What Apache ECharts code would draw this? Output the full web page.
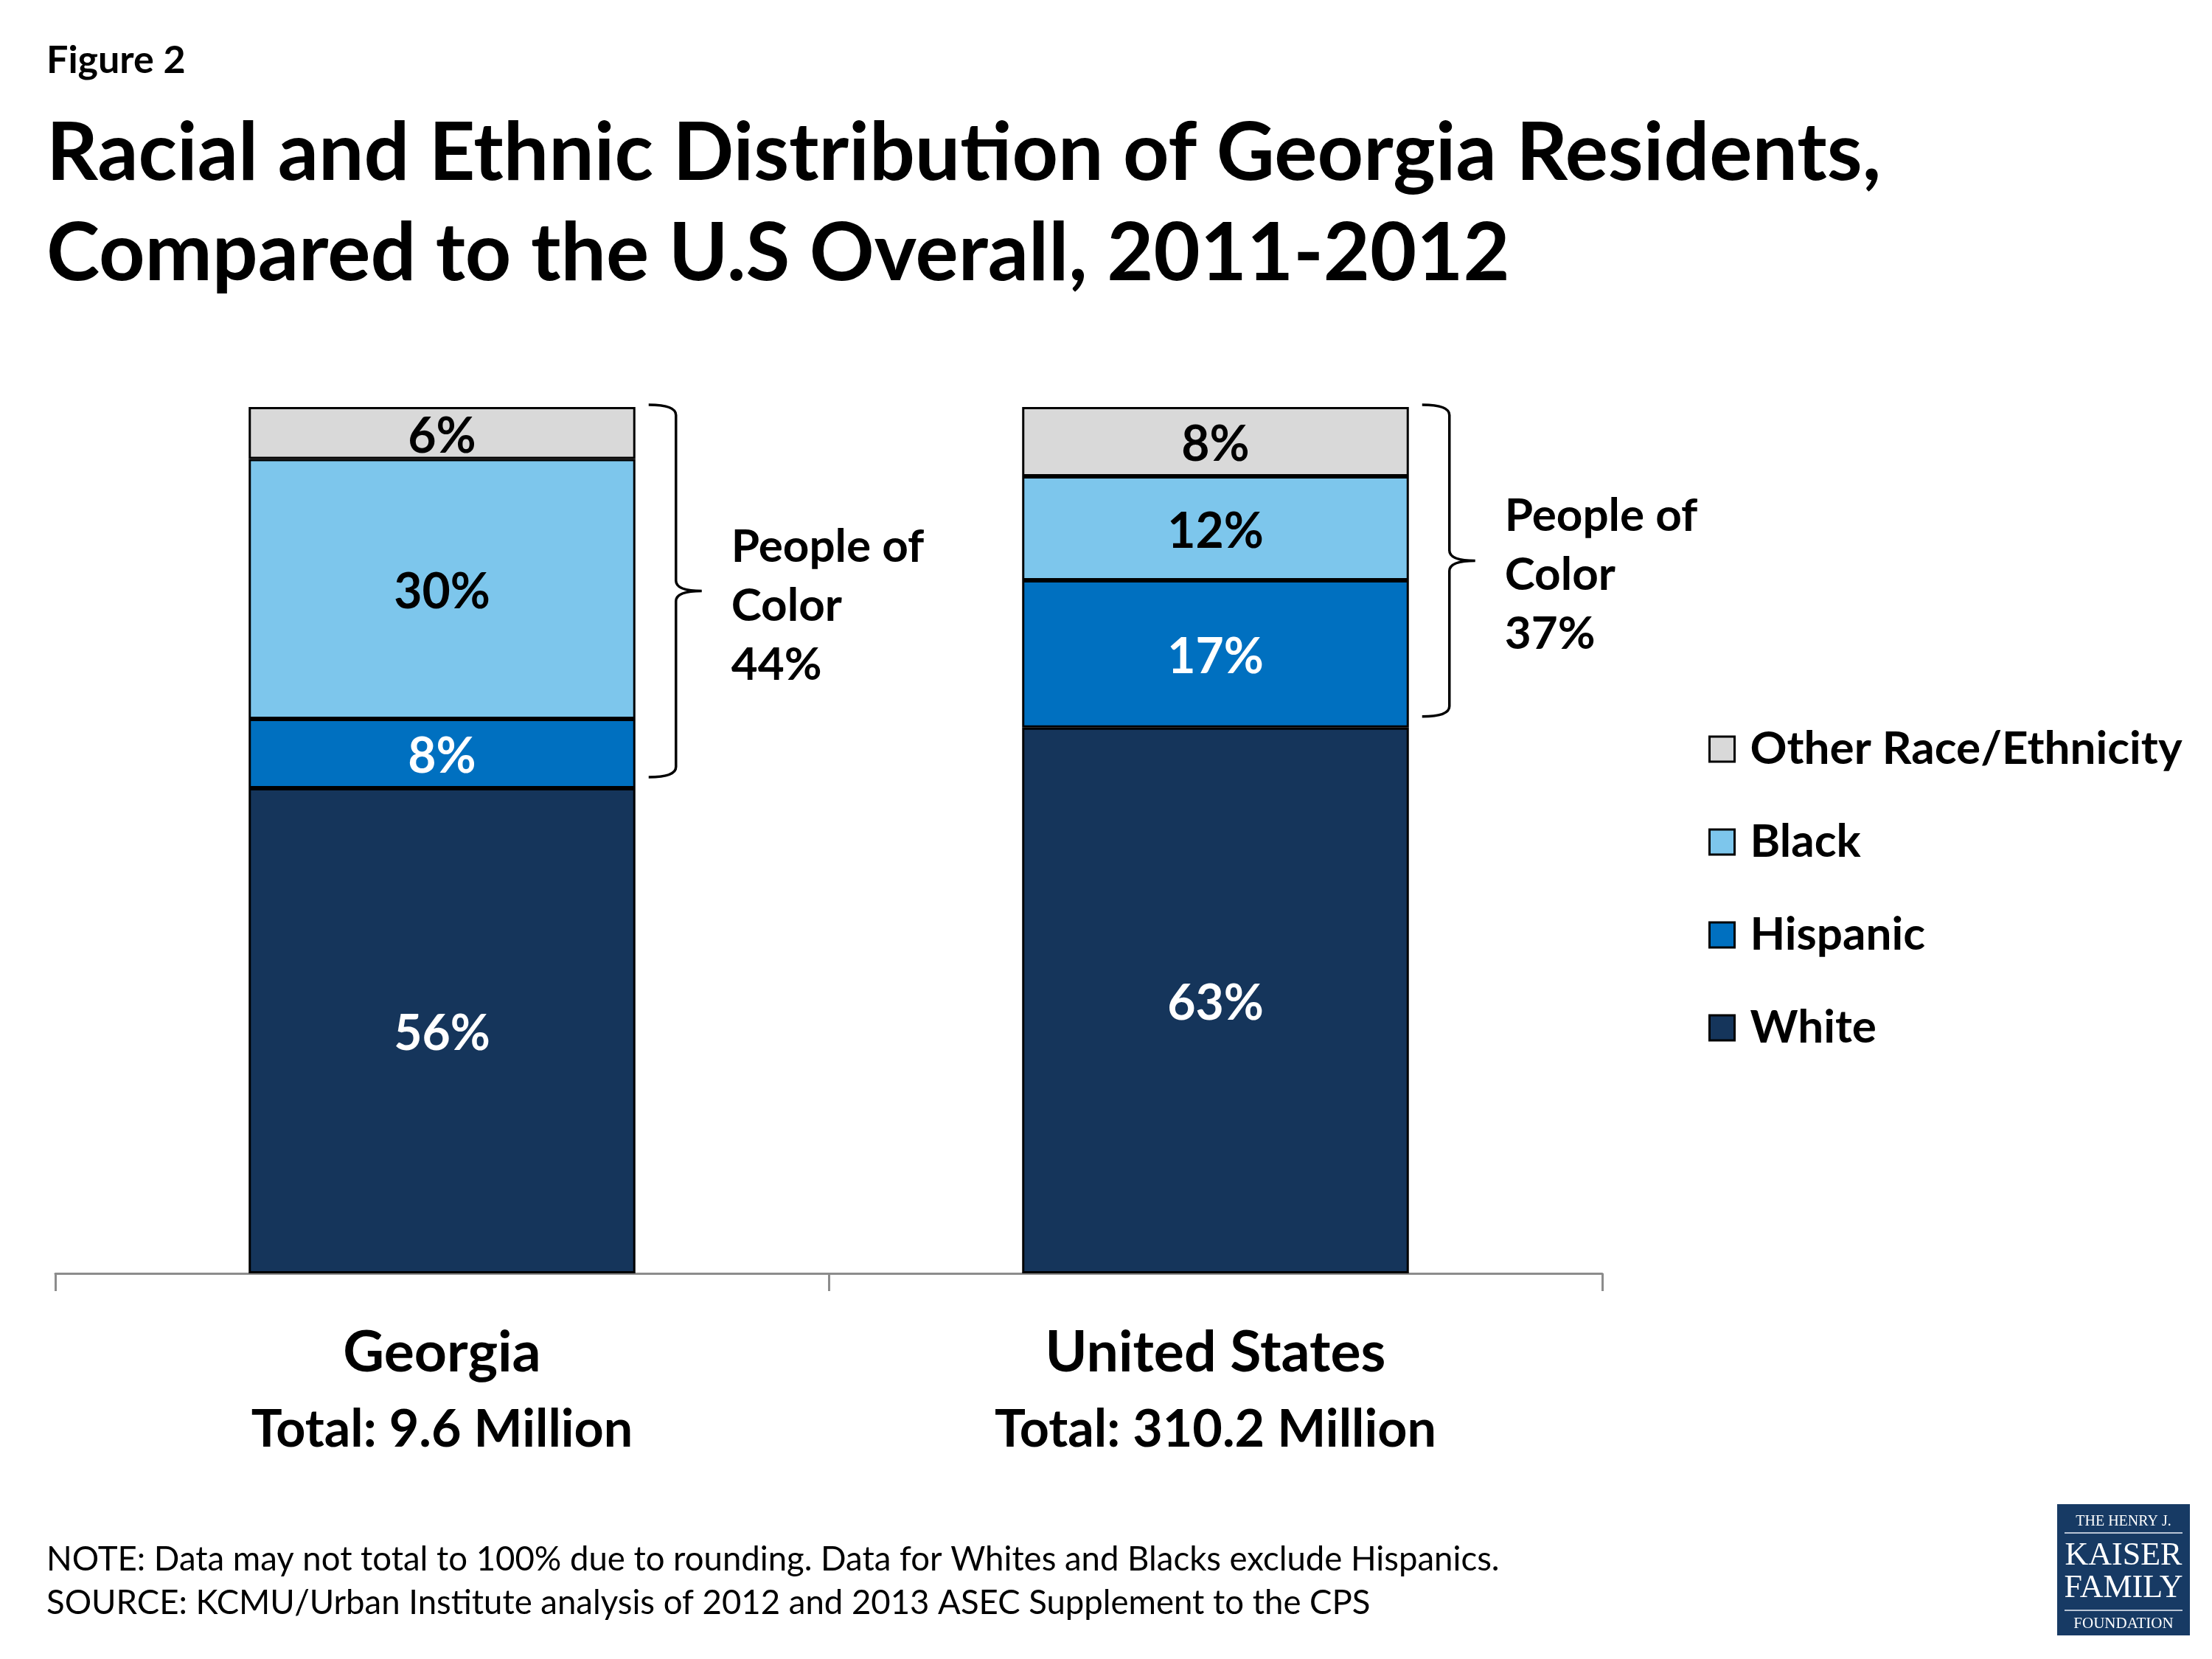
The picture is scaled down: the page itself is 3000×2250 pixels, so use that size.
<!DOCTYPE html>
<html>
<head>
<meta charset="utf-8">
<script src="https://cdn.jsdelivr.net/npm/echarts@6/dist/echarts.min.js"></script>
<style>
html,body{margin:0;padding:0;background:#fff;}
#chart{width:3000px;height:2250px;}
</style>
</head>
<body>
<div id="chart"></div>
<script>
// ---- data ----
const categories = ['Georgia', 'United States'];
const totalsMillion = [9.6, 310.2];
const seriesNames = ['White', 'Hispanic', 'Black', 'Other Race/Ethnicity'];
const white = [56, 63];
const hispanic = [8, 17];
const black = [30, 12];
const other = [6, 8];
const peopleOfColor = [44, 37];

// ---- styles ----
const FONT = 'Lato, "Open Sans", sans-serif';
const colors = {
  'White': '#15355B',
  'Hispanic': '#0070C0',
  'Black': '#7DC6EC',
  'Other Race/Ethnicity': '#D9D9D9'
};
const labelColors = {
  'White': '#ffffff',
  'Hispanic': '#ffffff',
  'Black': '#000000',
  'Other Race/Ethnicity': '#000000'
};
const values = {
  'White': white, 'Hispanic': hispanic, 'Black': black, 'Other Race/Ethnicity': other
};

const barSeries = seriesNames.map(name => ({
  name: name,
  type: 'bar',
  stack: 'total',
  barWidth: '50%',
  data: values[name],
  itemStyle: { color: colors[name], borderColor: '#000', borderWidth: 3 },
  label: {
    show: true,
    position: 'inside',
    offset: [0, 5],
    formatter: '{c}%',
    fontFamily: FONT,
    fontWeight: 'bold',
    fontSize: 66,
    color: labelColors[name]
  },
  emphasis: { disabled: true }
}));

const bracketData = categories.map((c, i) => [
  i,
  white[i],
  white[i] + hispanic[i] + black[i] + other[i],
  peopleOfColor[i]
]);

const bracketSeries = {
  type: 'custom',
  name: 'bracket',
  coordinateSystem: 'cartesian2d',
  encode: { x: 0, y: [1, 2] },
  data: bracketData,
  silent: true,
  clip: false,
  z: 5,
  renderItem: function (params, api) {
    const idx = api.value(0);
    const low = api.value(1);
    const high = api.value(2);
    const pct = api.value(3);
    const center = api.coord([idx, 0])[0];
    const band = api.size([1, 0])[0];
    const xr = center + band * 0.25;
    const yt = api.coord([idx, high])[1] - 3;
    const yb = api.coord([idx, low])[1] - 15;
    const ym = (yt + yb) / 2;
    const x0 = xr + 18;
    const xv = xr + 55;
    const xt = xr + 90;
    const r = 14;
    const d = 'M' + x0 + ',' + yt +
      ' Q' + xv + ',' + yt + ' ' + xv + ',' + (yt + r) +
      ' L' + xv + ',' + (ym - r) +
      ' Q' + xv + ',' + ym + ' ' + xt + ',' + ym +
      ' Q' + xv + ',' + ym + ' ' + xv + ',' + (ym + r) +
      ' L' + xv + ',' + (yb - r) +
      ' Q' + xv + ',' + yb + ' ' + x0 + ',' + yb;
    return {
      type: 'group',
      children: [
        {
          type: 'path',
          shape: { pathData: d },
          style: { fill: null, stroke: '#000', lineWidth: 3.5 }
        },
        {
          type: 'text',
          x: xt + 40,
          y: ym + 20,
          style: {
            text: 'People of\nColor\n' + pct + '%',
            fontFamily: FONT,
            fontWeight: 'bold',
            fontSize: 62,
            lineHeight: 80,
            fill: '#000',
            align: 'left',
            verticalAlign: 'middle'
          }
        }
      ]
    };
  }
};

const chart = echarts.init(document.getElementById('chart'), null, { renderer: 'canvas' });

chart.setOption({
  backgroundColor: '#ffffff',
  animation: false,
  title: [
    {
      text: 'Figure 2',
      left: 63, top: 56, padding: 0,
      textStyle: { fontFamily: FONT, fontWeight: 'bold', fontSize: 52, lineHeight: 52, color: '#000' }
    },
    {
      text: 'Racial and Ethnic Distribution of Georgia Residents,\nCompared to the U.S Overall, 2011-2012',
      left: 63, top: 141, padding: 0,
      textStyle: { fontFamily: FONT, fontWeight: 'bold', fontSize: 109, lineHeight: 136, color: '#000' }
    },
    {
      text: 'NOTE: Data may not total to 100% due to rounding. Data for Whites and Blacks exclude Hispanics.\nSOURCE: KCMU/Urban Institute analysis of 2012 and 2013 ASEC Supplement to the CPS',
      left: 63, top: 2086, padding: 0,
      textStyle: { fontFamily: FONT, fontWeight: 'normal', fontSize: 45.5, lineHeight: 59, color: '#000' }
    }
  ],
  legend: {
    data: ['Other Race/Ethnicity', 'Black', 'Hispanic', 'White'],
    orient: 'vertical',
    left: 2317,
    top: 985,
    padding: 0,
    itemWidth: 34,
    itemHeight: 34,
    itemGap: 64,
    icon: 'rect',
    selectedMode: false,
    itemStyle: { borderColor: '#000', borderWidth: 3 },
    textStyle: {
      fontFamily: FONT, fontWeight: 'bold', fontSize: 62, lineHeight: 62, color: '#000',
      padding: [0, 0, 0, 16]
    }
  },
  grid: { left: 75, right: 827, top: 552, bottom: 523, containLabel: false },
  xAxis: {
    type: 'category',
    data: categories,
    axisLine: { show: true, lineStyle: { color: '#8C8C8C', width: 3 } },
    axisTick: { show: true, length: 24, lineStyle: { color: '#8C8C8C', width: 3 } },
    axisLabel: {
      margin: 56,
      formatter: function (value, idx) {
        return '{a|' + value + '}\n{b|Total: ' + totalsMillion[idx] + ' Million}';
      },
      rich: {
        a: { fontFamily: FONT, fontWeight: 'bold', fontSize: 77, lineHeight: 104, color: '#000' },
        b: { fontFamily: FONT, fontWeight: 'bold', fontSize: 70, lineHeight: 104, color: '#000' }
      }
    }
  },
  yAxis: {
    type: 'value',
    min: 0,
    max: 100,
    interval: 20,
    show: false,
    splitLine: { show: false }
  },
  series: barSeries.concat([bracketSeries]),
  graphic: [
    {
      type: 'group',
      left: 2790,
      top: 2040,
      children: [
        { type: 'rect', shape: { x: 0, y: 0, width: 180, height: 178 }, style: { fill: '#173A64' } },
        { type: 'text', x: 90, y: 24, style: { text: 'THE HENRY J.', fontFamily: '"Liberation Serif", serif', fontSize: 20, fill: '#ffffff', align: 'center', verticalAlign: 'middle' } },
        { type: 'rect', shape: { x: 10, y: 38, width: 160, height: 2 }, style: { fill: '#B8C4D4' } },
        { type: 'text', x: 90, y: 70, style: { text: 'KAISER', fontFamily: '"Liberation Serif", serif', fontSize: 44, fill: '#ffffff', align: 'center', verticalAlign: 'middle' } },
        { type: 'text', x: 90, y: 114, style: { text: 'FAMILY', fontFamily: '"Liberation Serif", serif', fontSize: 44, fill: '#ffffff', align: 'center', verticalAlign: 'middle' } },
        { type: 'rect', shape: { x: 10, y: 143, width: 160, height: 2 }, style: { fill: '#B8C4D4' } },
        { type: 'text', x: 90, y: 162, style: { text: 'FOUNDATION', fontFamily: '"Liberation Serif", serif', fontSize: 21, fill: '#ffffff', align: 'center', verticalAlign: 'middle' } }
      ]
    }
  ]
});
</script>
</body>
</html>
